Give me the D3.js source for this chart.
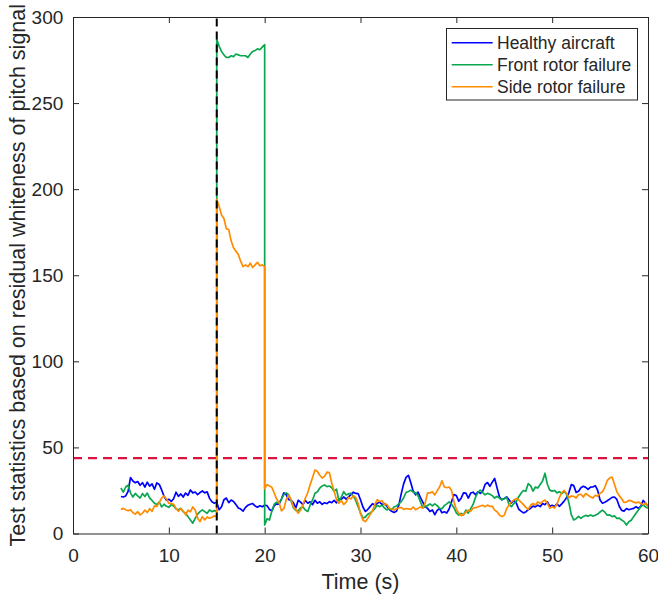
<!DOCTYPE html>
<html>
<head>
<meta charset="utf-8">
<script src="https://cdn.jsdelivr.net/npm/d3@7"></script>
<style>
  body { margin: 0; background: #fff; }
  svg { display: block; }
  text { font-family: "Liberation Sans", Arial, Helvetica, sans-serif; fill: #262626; }
</style>
</head>
<body>
<svg id="chart" width="658" height="602"></svg>
<script>
// ---- axes ----
const xTicks = [0, 10, 20, 30, 40, 50, 60];
const yTicks = [0, 50, 100, 150, 200, 250, 300];
const xLabel = "Time (s)";
const yLabel = "Test statistics based on residual whiteness of pitch signal";

// ---- reference lines ----
const threshold = 43.77;   // detection threshold
const faultTime = 15;      // fault injection instant (s)

// ---- series ----
const seriesNames = ["Healthy aircraft", "Front rotor failure", "Side rotor failure"];
const seriesColors = ["#0000ff", "#0aa650", "#ff8c00"];

// sampling grid: 5–15 s, 15–20 s, 20–60 s at 0.25 s; segment edges repeated so jumps stay vertical
const segments = [[5, 15], [15, 20], [20, 60]];
const dt = 0.25;

const healthy = [
  // 5–15 s
  21.5, 21.2, 21.8, 24.5, 32.5, 30.5, 29.5, 30.2, 28.0, 29.5, 27.0, 29.8, 27.5, 28.8, 25.7, 29.4, 28.5, 25.3, 21.6, 19.3,
  19.9, 18.6, 20.2, 24.0, 21.6, 23.0, 21.2, 23.5, 22.2, 25.3, 23.6, 24.1, 22.6, 23.8, 24.7, 23.6, 24.2, 20.4, 18.4, 17.6,
  18.2,
  // 15–20 s
  18.2, 13.8, 15.5, 19.6, 20.6, 17.9, 19.4, 18.6, 16.8, 14.8, 14.2, 13.0, 15.2, 16.4, 17.0, 17.4, 16.0, 15.3, 16.1, 15.5,
  16.4,
  // 20–60 s
  16.4, 16.2, 14.0, 13.2, 16.2, 17.2, 17.0, 20.0, 23.6, 22.5, 19.6, 19.4, 17.8, 14.8, 19.3, 18.2, 16.8, 19.2, 17.6, 18.4,
  16.8, 19.3, 17.6, 18.4, 16.9, 17.9, 17.4, 18.5, 17.9, 19.2, 17.8, 20.2, 19.8, 21.2, 20.0, 21.3, 22.6, 24.0, 23.3, 23.2,
  19.6, 15.4, 12.8, 13.9, 15.6, 17.3, 16.6, 17.5, 18.3, 16.8, 17.4, 15.8, 14.0, 12.9, 12.2, 12.9, 16.5, 23.0, 28.8, 32.6,
  33.8, 29.5, 24.6, 22.5, 24.0, 21.0, 18.2, 15.5, 14.6, 12.8, 13.7, 10.9, 13.4, 14.5, 12.0, 12.6, 11.9, 14.2, 18.5, 22.6,
  22.0, 18.8, 20.5, 23.6, 23.4, 20.6, 23.5, 24.0, 22.5, 24.2, 23.3, 24.5, 28.5, 29.6, 27.4, 29.8, 32.0, 26.5, 21.2, 19.6,
  20.3, 21.3, 19.6, 17.7, 19.2, 17.8, 14.2, 13.0, 12.0, 12.5, 13.8, 14.7, 15.9, 15.5, 16.5, 15.6, 17.4, 16.7, 18.4, 15.7,
  16.4, 15.7, 17.3, 15.8, 17.2, 18.8, 20.8, 23.8, 28.4, 27.8, 23.9, 24.5, 26.6, 27.4, 26.8, 25.6, 26.9, 27.0, 27.8, 25.0,
  19.5, 17.6, 18.2, 19.0, 20.0, 21.0, 21.2, 19.8, 15.8, 13.4, 13.0, 14.5, 13.8, 14.2, 14.6, 15.5, 14.7, 15.8, 19.2, 17.6,
  15.8
];

const frontFailure = [
  // 5–15 s
  26.5, 24.0, 27.0, 28.0, 23.6, 21.2, 23.3, 21.8, 20.6, 23.2, 21.5, 23.5, 20.5, 19.2, 17.6, 16.8, 18.3, 15.4, 17.0, 15.8,
  15.2, 16.8, 16.0, 14.2, 13.8, 14.6, 12.7, 11.7, 9.8, 7.8, 6.0, 8.8, 11.3, 12.7, 13.7, 12.7, 11.7, 13.7, 12.7, 13.3,
  13.0,
  // 15–20 s
  287, 283, 280, 278, 276.5, 276.5, 277.5, 277, 278.5, 278, 277.5, 277.5, 277.5, 276.5, 278.5, 280, 280.5, 281.5, 281, 282.5,
  284,
  // 20–60 s
  5.0, 8.6, 7.8, 13.0, 17.0, 18.2, 17.6, 20.0, 22.6, 23.6, 22.5, 19.0, 15.0, 13.4, 13.2, 14.9, 15.4, 13.6, 12.8, 16.6,
  19.5, 23.4, 24.3, 26.3, 27.6, 28.2, 27.2, 27.6, 26.6, 24.6, 25.7, 19.0, 21.0, 24.3, 22.4, 23.0, 23.4, 21.8, 19.2, 15.6,
  12.0, 9.0, 9.5, 11.2, 11.9, 13.0, 14.6, 16.4, 15.6, 16.5, 14.8, 13.7, 14.6, 13.8, 15.4, 16.0, 17.2, 18.5, 20.6, 23.8,
  24.4, 25.2, 24.0, 23.6, 22.0, 18.5, 15.0, 15.4, 16.3, 17.2, 16.0, 17.2, 16.2, 14.6, 14.4, 16.2, 17.2, 18.4, 17.0, 15.0,
  12.0, 10.7, 11.7, 10.8, 13.6, 11.8, 14.4, 16.9, 21.0, 23.9, 25.2, 23.8, 22.5, 23.3, 22.8, 22.0, 20.6, 21.6, 20.5, 19.6,
  20.2, 21.0, 16.8, 15.6, 17.4, 18.6, 21.2, 23.4, 25.0, 24.5, 29.0, 27.8, 24.6, 27.0, 26.4, 28.5, 30.5, 35.0, 28.6, 25.2,
  24.6, 25.0, 23.6, 24.3, 23.2, 24.4, 22.8, 17.8, 10.8, 7.9, 8.6, 10.0, 8.8, 9.9, 10.5, 10.0, 10.8, 10.1, 10.6, 11.3,
  12.5, 13.6, 12.4, 10.6, 10.8, 9.8, 10.2, 8.8, 8.9, 7.8, 6.9, 4.9, 6.8, 7.7, 9.8, 11.7, 13.6, 15.6, 16.6, 15.4,
  14.6
];

const sideFailure = [
  // 5–15 s
  14.0, 14.6, 13.8, 13.2, 13.8, 12.0, 11.3, 12.7, 10.8, 11.8, 13.6, 12.2, 14.4, 12.8, 16.0, 15.8, 18.0, 20.5, 21.8, 20.0,
  17.6, 17.4, 17.0, 14.6, 12.9, 14.4, 13.0, 10.8, 13.5, 12.6, 15.4, 13.6, 8.8, 6.9, 9.8, 7.9, 9.6, 8.9, 9.4, 10.2,
  9.8,
  // 15–20 s
  194, 190, 185, 183, 177, 176.5, 170, 166, 164, 162, 158, 155, 156, 155, 157, 154.5, 156, 157.5, 155.5, 156,
  155,
  // 20–60 s
  26.0, 28.4, 27.6, 26.8, 23.5, 20.0, 18.0, 13.2, 14.4, 19.6, 22.2, 19.8, 15.6, 13.9, 11.8, 13.6, 16.8, 20.6, 23.8, 28.4,
  32.5, 36.9, 36.0, 33.8, 32.2, 33.2, 35.6, 35.4, 29.2, 24.6, 19.5, 17.6, 19.2, 16.8, 18.2, 21.0, 20.0, 22.0, 21.0, 17.5,
  11.5, 7.8, 6.9, 8.6, 11.0, 13.2, 17.0, 19.6, 18.6, 19.0, 16.8, 17.0, 14.6, 14.2, 13.6, 14.4, 14.8, 15.2, 14.0, 14.5,
  14.3, 14.0, 15.4, 13.8, 14.6, 15.4, 14.6, 17.8, 23.6, 23.6, 24.3, 22.4, 24.8, 27.0, 30.6, 27.0, 26.6, 27.0, 25.0, 18.6,
  14.0, 11.9, 10.4, 11.0, 12.4, 13.6, 12.9, 14.8, 15.0, 15.4, 16.0, 16.4, 15.6, 16.5, 15.7, 15.8, 13.6, 12.6, 10.7, 9.8,
  10.6, 14.4, 16.6, 18.4, 19.4, 20.3, 19.6, 18.2, 16.8, 15.2, 14.0, 16.4, 17.4, 16.6, 18.4, 17.4, 18.6, 19.4, 17.5, 14.7,
  15.6, 14.8, 17.0, 20.8, 23.8, 25.0, 23.2, 20.8, 21.8, 21.6, 20.6, 22.6, 22.8, 21.2, 23.2, 22.2, 21.4, 20.6, 22.2, 21.6,
  23.4, 24.2, 27.0, 30.8, 32.2, 32.8, 28.6, 24.2, 22.0, 20.2, 18.0, 18.2, 19.2, 19.0, 18.2, 17.8, 18.3, 17.4, 16.8, 17.8,
  15.6
];

// ---- layout ----
const W = 658, H = 602;
const margin = { left: 73, right: 10, top: 17, bottom: 68.5 };
const plotW = W - margin.left - margin.right;
const plotH = H - margin.top - margin.bottom;
const axisColor = "#262626";
const tickFont = 19, labelFont = 21.5, legendFont = 17.5;

const svg = d3.select("#chart");
const g = svg.append("g").attr("transform", `translate(${margin.left},${margin.top})`);

const x = d3.scaleLinear().domain([0, 60]).range([0, plotW]);
const y = d3.scaleLinear().domain([0, 300]).range([plotH, 0]);

const time = segments.flatMap(([a, b]) => d3.range(a, b + dt / 2, dt));
const allSeries = [healthy, frontFailure, sideFailure].map((vals, i) => ({
  name: seriesNames[i],
  color: seriesColors[i],
  points: vals.slice(0, time.length).map((v, k) => [time[k], v])
}));

// threshold line
g.append("line")
  .attr("x1", x(0)).attr("x2", x(60))
  .attr("y1", y(threshold)).attr("y2", y(threshold))
  .attr("stroke", "#dc143c").attr("stroke-width", 2.2)
  .attr("stroke-dasharray", "9,6");

// series
const line = d3.line().x(d => x(d[0])).y(d => y(d[1]));
g.append("g").selectAll("path").data(allSeries).join("path")
  .attr("d", d => line(d.points))
  .attr("fill", "none")
  .attr("stroke", d => d.color)
  .attr("stroke-width", 1.7)
  .attr("stroke-linejoin", "round");

// fault instant
g.append("line")
  .attr("x1", x(faultTime)).attr("x2", x(faultTime))
  .attr("y1", y(0)).attr("y2", y(300))
  .attr("stroke", "#000").attr("stroke-width", 2)
  .attr("stroke-dasharray", "8,5");

// ---- axes (box with mirrored inward ticks) ----
function styleAxis(sel) {
  sel.select(".domain").attr("stroke", axisColor);
  sel.selectAll(".tick line").attr("stroke", axisColor);
  sel.selectAll(".tick text").attr("fill", axisColor).attr("font-size", tickFont)
    .attr("font-family", '"Liberation Sans", Arial, Helvetica, sans-serif');
}

g.append("g").attr("transform", `translate(0,${plotH})`)
  .call(d3.axisBottom(x).tickValues(xTicks).tickSizeInner(-6).tickSizeOuter(0).tickPadding(14.7))
  .call(styleAxis);
g.append("g")
  .call(d3.axisTop(x).tickValues(xTicks).tickSizeInner(-6).tickSizeOuter(0).tickFormat(""))
  .call(styleAxis);
g.append("g")
  .call(d3.axisLeft(y).tickValues(yTicks).tickSizeInner(-6).tickSizeOuter(0).tickPadding(9.7))
  .call(styleAxis);
g.append("g").attr("transform", `translate(${plotW},0)`)
  .call(d3.axisRight(y).tickValues(yTicks).tickSizeInner(-6).tickSizeOuter(0).tickFormat(""))
  .call(styleAxis);

// axis titles
svg.append("text")
  .attr("x", margin.left + plotW / 2).attr("y", 589)
  .attr("text-anchor", "middle").attr("font-size", labelFont)
  .text(xLabel);
svg.append("text")
  .attr("transform", `translate(25,${margin.top + plotH / 2}) rotate(-90)`)
  .attr("text-anchor", "middle").attr("font-size", labelFont)
  .text(yLabel);

// ---- legend ----
const legend = svg.append("g").attr("transform", "translate(446.5,28.5)");
legend.append("rect")
  .attr("width", 191).attr("height", 71.5)
  .attr("fill", "#fff").attr("stroke", axisColor).attr("stroke-width", 1);
allSeries.forEach((s, i) => {
  const ry = 14.2 + i * 22;
  legend.append("line")
    .attr("x1", 5.2).attr("x2", 46.2).attr("y1", ry).attr("y2", ry)
    .attr("stroke", s.color).attr("stroke-width", 1.5);
  legend.append("text")
    .attr("x", 50.5).attr("y", ry).attr("dy", "0.35em")
    .attr("font-size", legendFont)
    .text(s.name);
});
</script>
</body>
</html>
